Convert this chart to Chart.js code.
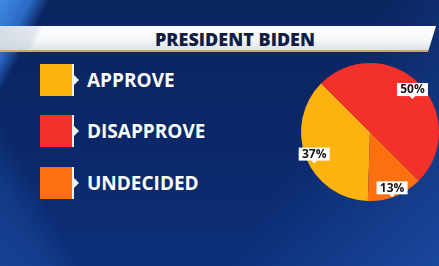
<!DOCTYPE html>
<html>
<head>
<meta charset="utf-8">
<script src="https://cdn.jsdelivr.net/npm/chart.js@4.4.1/dist/chart.umd.min.js"></script>
<style>
  html, body { margin: 0; padding: 0; }
  body {
    width: 439px; height: 266px; overflow: hidden; position: relative;
    font-family: "Open Sans", "Liberation Sans", sans-serif;
    background:
      linear-gradient(118deg, rgba(70,150,240,0.9) 0px, rgba(50,120,220,0.8) 28px, rgba(20,60,150,0) 44px),
      linear-gradient(62deg, rgba(40,100,200,0.35) 0px, rgba(40,100,200,0.25) 40px, rgba(20,60,150,0) 70px),
      linear-gradient(300deg, rgba(40,100,200,0.45) 0%, rgba(20,60,150,0) 35%),
      linear-gradient(180deg, #0b2560 0%, #0a2768 50%, #0d307a 100%);
  }
  #titlebar {
    position: absolute; left: 0; top: 26px; width: 436px; height: 24px;
    background:
      linear-gradient(115deg, rgba(190,200,215,0.6) 0px, rgba(190,200,215,0.4) 34px, rgba(255,255,255,0) 40px),
      linear-gradient(180deg, #ffffff 0%, #f4f6f8 60%, #dde2e8 100%);
    border-bottom: 2px solid #c9a86a;
    clip-path: polygon(0 0, 100% 0, calc(100% - 8px) 100%, 0 100%);
  }
  #titlebar span {
    position: absolute; left: 155px; top: 1px;
    font-weight: 800; font-size: 18px; color: #121d45;
  }
  #legend { position: absolute; left: 40px; top: 0; }
  .item { position: absolute; left: 0; height: 32px; width: 220px; }
  .box { position: absolute; left: 0; top: 0; width: 32px; height: 32px; border-right: 2px solid #f0f0f0; }
  .box::after {
    content: ""; position: absolute; right: -7px; top: 11px;
    border-top: 5px solid transparent; border-bottom: 5px solid transparent; border-left: 5px solid #f0f0f0;
  }
  .lbl { position: absolute; left: 47px; top: 2px; color: #fff; font-weight: 700; font-size: 19px; line-height: 28px; }
  #wrap { position: absolute; left: 0; top: 0; width: 439px; height: 266px; }
</style>
</head>
<body>
<div id="titlebar"><span>PRESIDENT BIDEN</span></div>
<div id="legend"></div>
<div id="wrap"><canvas id="pie"></canvas></div>
<script>
// data
const labels = ['APPROVE', 'DISAPPROVE', 'UNDECIDED'];
const values = [37, 50, 13];
const colors = ['#fdb30f', '#f3302a', '#fd7010'];
const pctLabels = ['37%', '50%', '13%'];

// legend on the left
const legendEl = document.getElementById('legend');
const rowTops = [64, 115, 167];
legendEl.innerHTML = labels.map((l, i) =>
  `<div class="item" style="top:${rowTops[i]}px"><div class="box" style="background:${colors[i]}"></div><div class="lbl">${l}</div></div>`
).join('');

// white tag with the percentage on each slice
const tagPlugin = {
  id: 'tags',
  afterDatasetsDraw(chart) {
    const ctx = chart.ctx;
    const meta = chart.getDatasetMeta(0);
    ctx.save();
    ctx.font = 'bold 12px "Open Sans", sans-serif';
    ctx.textAlign = 'center';
    ctx.textBaseline = 'middle';
    meta.data.forEach((arc, i) => {
      const p = arc.getProps(['x', 'y', 'startAngle', 'endAngle', 'outerRadius'], true);
      const mid = (p.startAngle + p.endAngle) / 2;
      const r = p.outerRadius * 0.87;
      const x = p.x + Math.cos(mid) * r;
      const y = p.y + Math.sin(mid) * r;
      const w = 31, h = 13;
      ctx.fillStyle = '#ffffff';
      ctx.fillRect(x - w / 2, y - h / 2, w, h);
      ctx.beginPath();
      ctx.moveTo(x - 3, y + h / 2);
      ctx.lineTo(x + 3, y + h / 2);
      ctx.lineTo(x, y + h / 2 + 3);
      ctx.fill();
      ctx.fillStyle = '#141414';
      ctx.fillText(pctLabels[i], x, y + 0.5);
    });
    ctx.restore();
  }
};

new Chart(document.getElementById('pie'), {
  type: 'pie',
  data: {
    labels: labels,
    datasets: [{ data: values, backgroundColor: colors, borderWidth: 0 }]
  },
  options: {
    responsive: true,
    maintainAspectRatio: false,
    animation: false,
    rotation: 181.8,
    layout: { padding: { left: 301, right: 0, top: 63, bottom: 65 } },
    plugins: { legend: { display: false }, tooltip: { enabled: false } }
  },
  plugins: [tagPlugin]
});
</script>
</body>
</html>
